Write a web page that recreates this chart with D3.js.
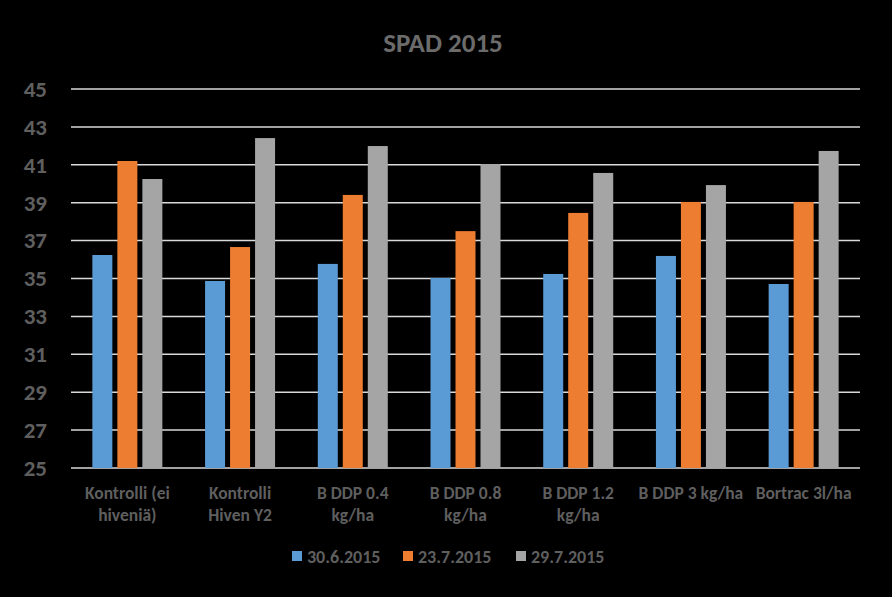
<!DOCTYPE html>
<html><head><meta charset="utf-8">
<script src="https://cdn.jsdelivr.net/npm/d3@7"></script>
<style>html,body{margin:0;padding:0;background:#000;}svg{display:block;}</style>
</head><body>
<svg id="chart" width="892" height="597"></svg>
<script>
const title = "SPAD 2015";
const categories = ["Kontrolli (ei hiveniä)", "Kontrolli Hiven Y2", "B DDP 0.4 kg/ha", "B DDP 0.8 kg/ha", "B DDP 1.2 kg/ha", "B DDP 3 kg/ha", "Bortrac 3l/ha"];
const categoryLines = [["Kontrolli (ei", "hiveniä)"], ["Kontrolli", "Hiven Y2"], ["B DDP 0.4", "kg/ha"], ["B DDP 0.8", "kg/ha"], ["B DDP 1.2", "kg/ha"], ["B DDP 3 kg/ha"], ["Bortrac 3l/ha"]];
const seriesNames = ["30.6.2015", "23.7.2015", "29.7.2015"];
const s1 = [36.24, 34.87, 35.77, 35.03, 35.24, 36.19, 34.71];
const s2 = [41.2, 36.66, 39.41, 37.5, 38.46, 39.04, 39.04];
const s3 = [40.25, 42.41, 41.99, 41.04, 40.57, 39.93, 41.73];
const yTicks = [25, 27, 29, 31, 33, 35, 37, 39, 41, 43, 45];
const colors = ["#5B9BD5", "#ED7D31", "#A5A5A5"];

const series = [s1, s2, s3];
const svg = d3.select("#chart");
const W = 892, H = 597;
const m = {left: 71, right: 32, top: 89, bottom: 129};
const textColor = "#5f5f5f";
const font = "Carlito, Lato, 'Open Sans', sans-serif";

svg.append("rect").attr("width", W).attr("height", H).attr("fill", "#000");

const x = d3.scaleBand().domain(categories).range([m.left, W - m.right]);
const y = d3.scaleLinear().domain([25, 45]).range([H - m.bottom, m.top]);
const bw = 20, step = 25;

// gridlines
svg.append("g").selectAll("line").data(yTicks).join("line")
  .attr("x1", m.left).attr("x2", W - m.right)
  .attr("y1", d => y(d)).attr("y2", d => y(d))
  .attr("stroke", "#d9d9d9").attr("stroke-width", 1.5);

// y axis labels
const yAxis = d3.axisLeft(y).tickValues(yTicks).tickSize(0).tickPadding(24);
const ya = svg.append("g").attr("transform", `translate(${m.left},0)`).call(yAxis);
ya.select(".domain").remove();
ya.selectAll("text").attr("fill", textColor).attr("font-family", font)
  .attr("font-size", 23).attr("font-weight", "bold");

// bars
series.forEach((s, si) => {
  svg.append("g").selectAll("rect").data(s).join("rect")
    .attr("x", (d, i) => x(categories[i]) + x.bandwidth() / 2 - 1.5 * step + 2.5 + si * step)
    .attr("width", bw)
    .attr("y", d => y(d))
    .attr("height", d => y(25) - y(d))
    .attr("fill", colors[si]);
});

// category labels
const cg = svg.append("g");
categories.forEach((c, i) => {
  const t = cg.append("text")
    .attr("x", x(c) + x.bandwidth() / 2)
    .attr("y", 499)
    .attr("text-anchor", "middle")
    .attr("fill", textColor).attr("font-family", font)
    .attr("font-size", 17.5).attr("font-weight", "bold");
  categoryLines[i].forEach((l, li) => {
    t.append("tspan").attr("x", x(c) + x.bandwidth() / 2).attr("dy", li === 0 ? 0 : 22).text(l);
  });
});

// title
svg.append("text").attr("x", 443).attr("y", 52).attr("text-anchor", "middle")
  .attr("fill", "#6b6b6b").attr("font-family", font).attr("font-size", 27)
  .attr("font-weight", "bold").text(title);

// legend
const legendX = [292, 403, 516];
const lg = svg.append("g");
seriesNames.forEach((n, i) => {
  lg.append("rect").attr("x", legendX[i]).attr("y", 551).attr("width", 10).attr("height", 10).attr("fill", colors[i]);
  lg.append("text").attr("x", legendX[i] + 15).attr("y", 563)
    .attr("fill", textColor).attr("font-family", font).attr("font-size", 18)
    .attr("font-weight", "bold").text(n);
});
</script>
</body></html>
